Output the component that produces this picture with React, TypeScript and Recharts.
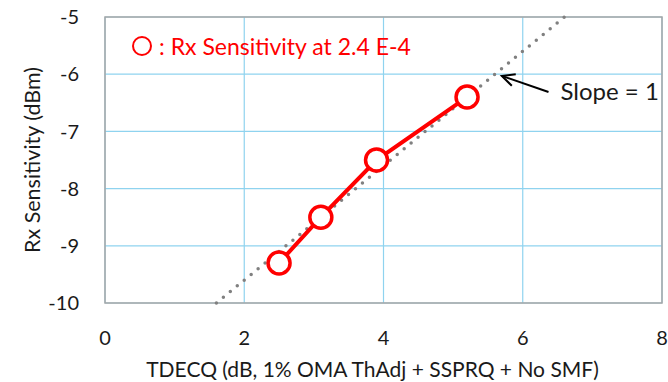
import React from "react";
import {
  CartesianGrid,
  Line,
  LineChart,
  ReferenceArea,
  ReferenceLine,
  XAxis,
  YAxis,
} from "recharts";

// measured points: TDECQ (dB) vs Rx sensitivity (dBm)
const tdecq = [2.5, 3.1, 3.9, 5.2];
const sensitivity = [-9.3, -8.5, -7.5, -6.4];

// slope = 1 reference line
const trendX = [1.6, 6.6];
const trendY = [-10, -5];

// arrow for the "Slope = 1" note: tip, then tail
const arrowX = [5.7, 6.37];
const arrowY = [-6.03, -6.31];

const xTicks = [0, 2, 4, 6, 8];
const yTicks = [-10, -9, -8, -7, -6, -5];

const FONT = "Lato, 'Open Sans', sans-serif";
const RED = "#ff0000";

const points = tdecq.map((x, i) => ({ x, y: sensitivity[i] }));
const trend = trendX.map((x, i) => ({ x, y: trendY[i] }));

function ArrowShape(props: any) {
  const { x1, y1, x2, y2 } = props;
  const ang = Math.atan2(y2 - y1, x2 - x1);
  const len = 14;
  const spread = 0.45;
  const a1x = x1 + len * Math.cos(ang + spread);
  const a1y = y1 + len * Math.sin(ang + spread);
  const a2x = x1 + len * Math.cos(ang - spread);
  const a2y = y1 + len * Math.sin(ang - spread);
  return (
    <g>
      <line x1={x1} y1={y1} x2={x2} y2={y2} stroke="#000" strokeWidth={2} />
      <polyline
        points={`${a1x},${a1y} ${x1},${y1} ${a2x},${a2y}`}
        fill="none"
        stroke="#000"
        strokeWidth={2}
      />
      <text
        x={x2 + 12}
        y={y2 + 8}
        fontFamily={FONT}
        fontSize={24}
        fill="#1a1a1a"
      >
        Slope = 1
      </text>
    </g>
  );
}

export default function App() {
  return (
    <div style={{ position: "absolute", left: 0, top: 0, width: 668, height: 382, background: "#fff" }}>
      <LineChart
        width={668}
        height={382}
        margin={{ top: 17, right: 6, left: 0, bottom: 0 }}
      >
        <CartesianGrid stroke="#8fd3ef" strokeWidth={1.2} />
        <XAxis
          type="number"
          dataKey="x"
          domain={[0, 8]}
          ticks={xTicks}
          height={79}
          axisLine={false}
          tickLine={false}
          tickMargin={22}
          tick={{ fill: "#1a1a1a", fontSize: 20, fontFamily: FONT }}
          label={{
            value: "TDECQ (dB, 1% OMA ThAdj + SSPRQ + No SMF)",
            position: "insideBottom",
            offset: 5,
            dx: -11,
            fill: "#1a1a1a",
            fontSize: 21,
            fontFamily: FONT,
          }}
        />
        <YAxis
          type="number"
          domain={[-10, -5]}
          ticks={yTicks}
          width={105}
          axisLine={false}
          tickLine={false}
          tickMargin={20}
          tick={{ fill: "#1a1a1a", fontSize: 20, fontFamily: FONT }}
          label={{
            value: "Rx Sensitivity (dBm)",
            angle: -90,
            position: "center",
            dx: -20,
            fill: "#1a1a1a",
            fontSize: 21.5,
            fontFamily: FONT,
          }}
        />
        <ReferenceArea
          x1={0}
          x2={8}
          y1={-10}
          y2={-5}
          fill="none"
          stroke="#a6a6a6"
          strokeWidth={1.5}
        />
        <Line
          data={trend}
          dataKey="y"
          type="linear"
          stroke="#808080"
          strokeWidth={3.5}
          strokeDasharray="0 9"
          strokeLinecap="round"
          dot={false}
          activeDot={false}
          isAnimationActive={false}
        />
        <Line
          data={points}
          dataKey="y"
          type="linear"
          stroke={RED}
          strokeWidth={4}
          dot={{ r: 11, fill: "#fff", stroke: RED, strokeWidth: 3.5 }}
          activeDot={false}
          isAnimationActive={false}
        />
        <ReferenceLine
          segment={[
            { x: arrowX[0], y: arrowY[0] },
            { x: arrowX[1], y: arrowY[1] },
          ]}
          shape={ArrowShape}
        />
      </LineChart>
      <div
        style={{
          position: "absolute",
          left: 131,
          top: 32,
          display: "flex",
          alignItems: "center",
          color: RED,
          fontFamily: FONT,
          fontSize: 23,
          whiteSpace: "nowrap",
        }}
      >
        <svg width={22} height={22} style={{ marginRight: 6 }}>
          <circle cx={11} cy={11} r={9} fill="none" stroke={RED} strokeWidth={2} />
        </svg>
        <span>: Rx Sensitivity at 2.4 E-4</span>
      </div>
    </div>
  );
}
